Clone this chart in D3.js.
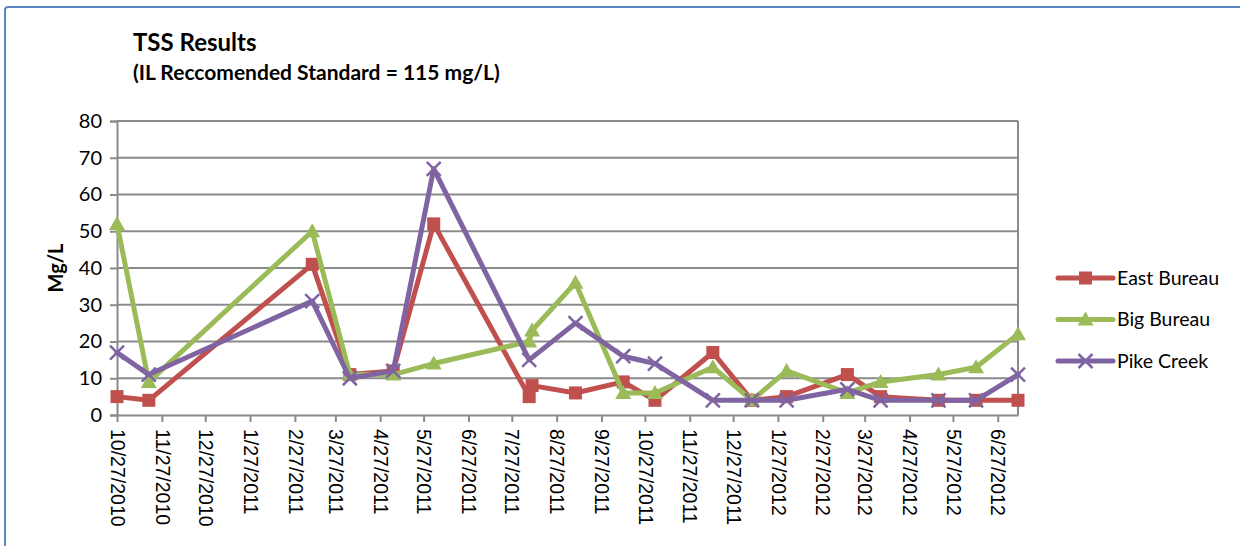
<!DOCTYPE html>
<html>
<head>
<meta charset="utf-8">
<script src="https://cdnjs.cloudflare.com/ajax/libs/d3/7.8.5/d3.min.js"></script>
<style>
  body { margin: 0; background: #fff; }
  svg { display: block; }
</style>
</head>
<body>
<svg id="chart" width="1240" height="546"></svg>
<script>
// sample dates (m/d/yyyy)
var sampleDates = ["10/27/2010", "11/18/2010", "3/11/2011", "4/6/2011", "5/6/2011", "6/3/2011",
  "8/8/2011", "8/10/2011", "9/9/2011", "10/12/2011", "11/3/2011", "12/13/2011",
  "1/9/2012", "2/2/2012", "3/15/2012", "4/7/2012", "5/17/2012", "6/12/2012", "7/11/2012"];

var eastBureau = [5, 4, 41, 11, 12, 52, 5, 8, 6, 9, 4, 17, 4, 5, 11, 5, 4, 4, 4];
var bigBureau  = [52, 9, 50, 11, 11, 14, 20, 23, 36, 6, 6, 13, 4, 12, 6, 9, 11, 13, 22];
var pikeCreek  = [17, 11, 31, 10, 12, 67, 15, null, 25, 16, 14, 4, 4, 4, 7, 4, 4, 4, 11];

var seriesNames = ["East Bureau", "Big Bureau", "Pike Creek"];
var seriesColors = ["#c0504d", "#9bbb59", "#8064a2"];
var seriesMarkers = ["square", "triangle", "cross"];

var xTickLabels = ["10/27/2010", "11/27/2010", "12/27/2010", "1/27/2011", "2/27/2011", "3/27/2011",
  "4/27/2011", "5/27/2011", "6/27/2011", "7/27/2011", "8/27/2011", "9/27/2011", "10/27/2011",
  "11/27/2011", "12/27/2011", "1/27/2012", "2/27/2012", "3/27/2012", "4/27/2012", "5/27/2012", "6/27/2012"];
var yTicks = [0, 10, 20, 30, 40, 50, 60, 70, 80];

var parseDate = d3.utcParse("%m/%d/%Y");
var fmtDate = d3.utcFormat("%-m/%-d/%Y");

var svg = d3.select("#chart"),
    margin = {top: 121, right: 222, bottom: 131, left: 117},
    width = +svg.attr("width") - margin.left - margin.right,
    height = +svg.attr("height") - margin.top - margin.bottom,
    g = svg.append("g").attr("transform", "translate(" + margin.left + "," + margin.top + ")");

var labelFont = "Lato, 'Open Sans', sans-serif";

// chart border (runs off the right and bottom of the picture)
svg.append("rect")
    .attr("x", 5).attr("y", 7)
    .attr("width", 1260).attr("height", 560)
    .attr("rx", 3)
    .attr("fill", "none")
    .attr("stroke", "#5b87c5")
    .attr("stroke-width", 2);

var x = d3.scaleUtc()
    .domain([parseDate(sampleDates[0]), parseDate(sampleDates[sampleDates.length - 1])])
    .range([0, width]);

var y = d3.scaleLinear()
    .domain([0, 80])
    .range([height, 0]);

// gridlines
g.append("g")
    .selectAll("line")
    .data(yTicks.slice(1))
    .enter().append("line")
      .attr("x1", 0).attr("x2", width)
      .attr("y1", function(d) { return y(d); })
      .attr("y2", function(d) { return y(d); })
      .attr("stroke", "#8a8a8a")
      .attr("stroke-width", 2);

// right edge of plot area
g.append("line")
    .attr("x1", width).attr("x2", width)
    .attr("y1", 0).attr("y2", height)
    .attr("stroke", "#8a8a8a")
    .attr("stroke-width", 2);

// y axis
var yAxis = g.append("g")
    .call(d3.axisLeft(y).tickValues(yTicks).tickSize(7).tickPadding(8));
yAxis.select(".domain").attr("stroke", "#8a8a8a").attr("stroke-width", 2);
yAxis.selectAll(".tick line").attr("stroke", "#8a8a8a").attr("stroke-width", 2);
yAxis.selectAll(".tick text")
    .attr("font-family", labelFont)
    .attr("font-size", 20)
    .attr("fill", "#000");

// x axis
var xAxis = g.append("g")
    .attr("transform", "translate(0," + height + ")")
    .call(d3.axisBottom(x)
      .tickValues(xTickLabels.map(parseDate))
      .tickFormat(fmtDate)
      .tickSize(7)
      .tickSizeOuter(0));
xAxis.select(".domain").attr("stroke", "#8a8a8a").attr("stroke-width", 2);
xAxis.selectAll(".tick line").attr("stroke", "#8a8a8a").attr("stroke-width", 2);
xAxis.selectAll(".tick text")
    .attr("font-family", "'Liberation Sans', Arial, sans-serif")
    .attr("font-size", 19.5)
    .attr("fill", "#000")
    .attr("text-anchor", "start")
    .attr("transform", "rotate(90)")
    .attr("x", 14)
    .attr("y", 0)
    .attr("dy", "0.35em");

// series
var seriesValues = [eastBureau, bigBureau, pikeCreek];
var series = seriesValues.map(function(vals, i) {
  return {
    name: seriesNames[i],
    color: seriesColors[i],
    marker: seriesMarkers[i],
    points: vals.map(function(v, j) { return {date: parseDate(sampleDates[j]), value: v}; })
                .filter(function(p) { return p.value !== null; })
  };
});

var line = d3.line()
    .x(function(d) { return x(d.date); })
    .y(function(d) { return y(d.value); });

function drawMarker(sel, type, color) {
  if (type === "square") {
    sel.append("rect")
        .attr("x", -6.5).attr("y", -6.5)
        .attr("width", 13).attr("height", 13)
        .attr("fill", color);
  } else if (type === "triangle") {
    sel.append("path")
        .attr("d", "M0,-8L8,6L-8,6Z")
        .attr("fill", color);
  } else {
    sel.append("path")
        .attr("d", "M-7,-7L7,7M-7,7L7,-7")
        .attr("stroke", color)
        .attr("stroke-width", 2.5)
        .attr("fill", "none");
  }
}

series.forEach(function(s) {
  var sg = g.append("g");
  sg.append("path")
      .datum(s.points)
      .attr("fill", "none")
      .attr("stroke", s.color)
      .attr("stroke-width", 5)
      .attr("stroke-linejoin", "round")
      .attr("stroke-linecap", "round")
      .attr("d", line);
  sg.selectAll(".mk")
    .data(s.points)
    .enter().append("g")
      .attr("class", "mk")
      .attr("transform", function(d) { return "translate(" + x(d.date) + "," + y(d.value) + ")"; })
      .each(function() { drawMarker(d3.select(this), s.marker, s.color); });
});

// y axis title
svg.append("text")
    .attr("transform", "translate(63,268) rotate(-90)")
    .attr("text-anchor", "middle")
    .attr("font-family", labelFont)
    .attr("font-weight", "bold")
    .attr("font-size", 20)
    .text("Mg/L");

// titles
svg.append("text")
    .attr("x", 133).attr("y", 51)
    .attr("font-family", labelFont)
    .attr("font-weight", "bold")
    .attr("font-size", 24)
    .text("TSS Results");

svg.append("text")
    .attr("x", 133).attr("y", 80)
    .attr("font-family", labelFont)
    .attr("font-weight", "bold")
    .attr("font-size", 21)
    .text("(IL Reccomended Standard = 115 mg/L)");

// legend
var legend = svg.append("g")
    .selectAll("g")
    .data(series)
    .enter().append("g")
      .attr("transform", function(d, i) { return "translate(1058," + (278 + i * 41.5) + ")"; });

legend.append("line")
    .attr("x1", 0).attr("x2", 55)
    .attr("stroke", function(d) { return d.color; })
    .attr("stroke-width", 5)
    .attr("stroke-linecap", "round");

legend.append("g")
    .attr("transform", "translate(27.5,0)")
    .each(function(d) { drawMarker(d3.select(this), d.marker, d.color); });

legend.append("text")
    .attr("x", 59)
    .attr("dy", "0.35em")
    .attr("font-family", labelFont)
    .attr("font-size", 19.5)
    .text(function(d) { return d.name; });
</script>
</body>
</html>
